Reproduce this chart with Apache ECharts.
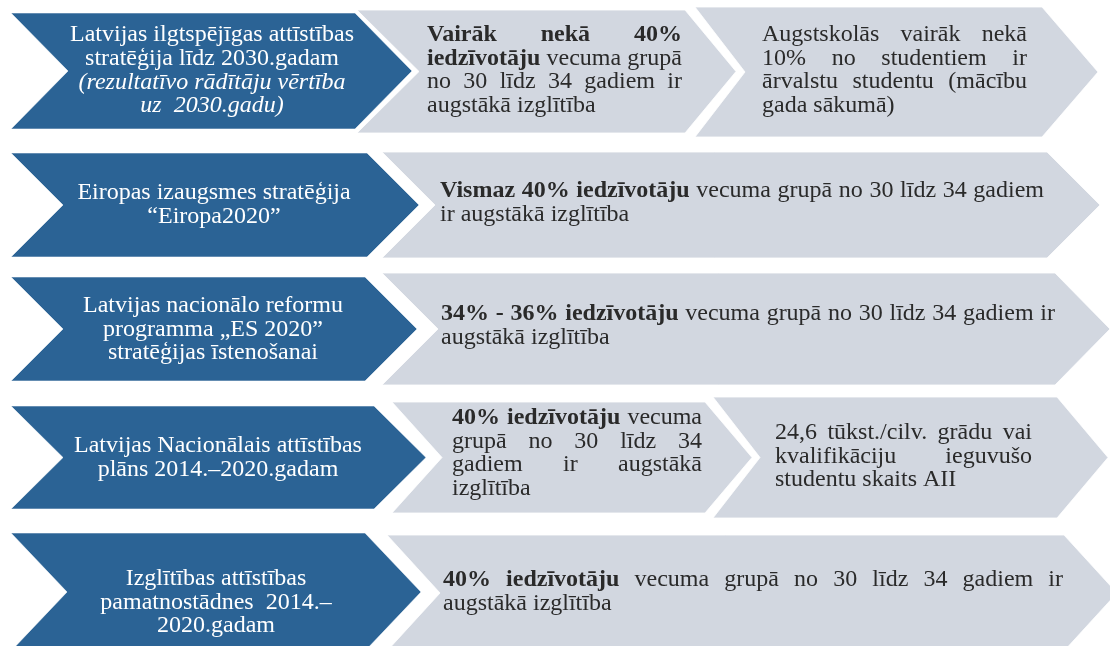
<!DOCTYPE html>
<html>
<head>
<meta charset="utf-8">
<script src="https://cdn.jsdelivr.net/npm/echarts@6/dist/echarts.min.js"></script>
<style>
  html, body { margin: 0; padding: 0; background: #fff; }
  #main { width: 1110px; height: 646px; }
</style>
</head>
<body>
<div id="main"></div>
<script>
// strategy titles (blue chevrons), one array of lines per row
var titleLines = [
  ['Latvijas ilgtspējīgas attīstības', 'stratēģija līdz 2030.gadam', '(rezultatīvo rādītāju vērtība', 'uz  2030.gadu)'],
  ['Eiropas izaugsmes stratēģija', '“Eiropa2020”'],
  ['Latvijas nacionālo reformu', 'programma „ES 2020”', 'stratēģijas īstenošanai'],
  ['Latvijas Nacionālais attīstības', 'plāns 2014.–2020.gadam'],
  ['Izglītības attīstības', 'pamatnostādnes  2014.–', '2020.gadam']
];
// first italic line in each title (-1 = none)
var titleItalicFrom = [2, -1, -1, -1, -1];

// target texts (grey chevrons), **bold** parts marked
var targetLines = [
  [
    ['**Vairāk nekā 40%**', '**iedzīvotāju** vecuma grupā', 'no 30 līdz 34 gadiem ir', 'augstākā izglītība'],
    ['Augstskolās vairāk nekā', '10% no studentiem ir', 'ārvalstu studentu (mācību', 'gada sākumā)']
  ],
  [
    ['**Vismaz 40% iedzīvotāju** vecuma grupā no 30 līdz 34 gadiem', 'ir augstākā izglītība']
  ],
  [
    ['**34% - 36% iedzīvotāju** vecuma grupā no 30 līdz 34 gadiem ir', 'augstākā izglītība']
  ],
  [
    ['**40% iedzīvotāju** vecuma', 'grupā no 30 līdz 34', 'gadiem ir augstākā', 'izglītība'],
    ['24,6 tūkst./cilv. grādu vai', 'kvalifikāciju ieguvušo', 'studentu skaits AII']
  ],
  [
    ['**40% iedzīvotāju** vecuma grupā no 30 līdz 34 gadiem ir', 'augstākā izglītība']
  ]
];

// layout: chevron [left, tip, top, bottom, notch depth, point depth]
var titleShapes = [
  [11, 412, 13, 129, 57, 57],
  [11, 419, 153, 257, 52, 52],
  [11, 417, 277, 381, 52, 52],
  [11, 426, 406, 509, 52, 52],
  [11, 421, 533, 651, 56, 56]
];
var titleText = [[212, 35], [214, 193], [213, 306], [218, 446], [216, 579]]; // center x, first line y
var targetShapes = [
  [[357, 736, 10, 133, 62, 51], [695, 1098, 7, 137, 50, 56]],
  [[382, 1100, 152, 258, 53, 53]],
  [[382, 1110, 273, 385, 56, 55]],
  [[392, 752, 402, 513, 50, 47], [713, 1108, 397, 518, 47, 51]],
  [[387, 1117, 535, 651, 53, 53]]
];
var targetText = [
  [[427, 682, 35], [762, 1027, 35]],
  [[440, 1044, 191]],
  [[441, 1055, 314]],
  [[452, 702, 418], [775, 1032, 433]],
  [[443, 1063, 580]]
]; // left, right, first line y
var fontSize = 24;
var lineH = 23.6;
var blue = '#2B6395', grey = '#D2D7E0', ink = '#2A2A2A';

var ctx = document.createElement('canvas').getContext('2d');
function fontOf(bold, italic) {
  return (italic ? 'italic ' : '') + (bold ? 'bold ' : '') + fontSize + 'px "Liberation Serif"';
}
function measure(t, bold) {
  ctx.font = fontOf(bold, false);
  return ctx.measureText(t).width;
}
function parseLine(line) {
  var words = [];
  line.split('**').forEach(function (seg, i) {
    seg.split(' ').forEach(function (w) {
      if (w) words.push({ text: w, bold: i % 2 === 1 });
    });
  });
  return words;
}

function chevron(api, s) {
  var l = s[0], tip = s[1], t = s[2], b = s[3], m = (t + b) / 2;
  return [[l, t], [tip - s[5], t], [tip, m], [tip - s[5], b], [l, b], [l + s[4], m]].map(function (p) {
    return api.coord(p);
  });
}

// data: [row, cell] where cell -1 is the blue title
var cells = [];
titleLines.forEach(function (r, i) {
  cells.push([i, -1]);
  targetLines[i].forEach(function (c, j) { cells.push([i, j]); });
});

function renderItem(params, api) {
  var row = api.value(0), cell = api.value(1);
  var children = [];
  if (cell < 0) {
    children.push({
      type: 'polygon',
      shape: { points: chevron(api, titleShapes[row]) },
      style: { fill: blue, stroke: 'rgba(255,255,255,0.55)', lineWidth: 1 }
    });
    titleLines[row].forEach(function (line, k) {
      var p = api.coord([titleText[row][0], titleText[row][1] + k * lineH]);
      var it = titleItalicFrom[row] >= 0 && k >= titleItalicFrom[row];
      children.push({
        type: 'text',
        style: { text: line, x: p[0], y: p[1], fill: '#fff', font: fontOf(false, it), align: 'center', verticalAlign: 'middle' }
      });
    });
  } else {
    children.push({
      type: 'polygon',
      shape: { points: chevron(api, targetShapes[row][cell]) },
      style: { fill: grey, stroke: 'rgba(255,255,255,0.8)', lineWidth: 1 }
    });
    var box = targetText[row][cell];
    var lines = targetLines[row][cell];
    lines.forEach(function (line, k) {
      var words = parseLine(line);
      var widths = words.map(function (w) { return measure(w.text, w.bold); });
      var total = widths.reduce(function (a, b) { return a + b; }, 0);
      var p0 = api.coord([box[0], box[2] + k * lineH]);
      var p1 = api.coord([box[1], box[2] + k * lineH]);
      var last = k === lines.length - 1;
      var gap = (!last && words.length > 1) ? (p1[0] - p0[0] - total) / (words.length - 1) : measure(' ', false);
      var x = p0[0];
      words.forEach(function (w, i) {
        children.push({
          type: 'text',
          style: { text: w.text, x: x, y: p0[1], fill: ink, font: fontOf(w.bold, false), align: 'left', verticalAlign: 'middle' }
        });
        x += widths[i] + gap;
      });
    });
  }
  return { type: 'group', children: children };
}

var chart = echarts.init(document.getElementById('main'));
chart.setOption({
  animation: false,
  grid: { left: 0, right: 0, top: 0, bottom: 0 },
  xAxis: { type: 'value', min: 0, max: 1110, show: false },
  yAxis: { type: 'value', min: 0, max: 646, inverse: true, show: false },
  series: [{
    type: 'custom',
    coordinateSystem: 'cartesian2d',
    clip: false,
    data: cells,
    renderItem: renderItem
  }]
});
</script>
</body>
</html>
